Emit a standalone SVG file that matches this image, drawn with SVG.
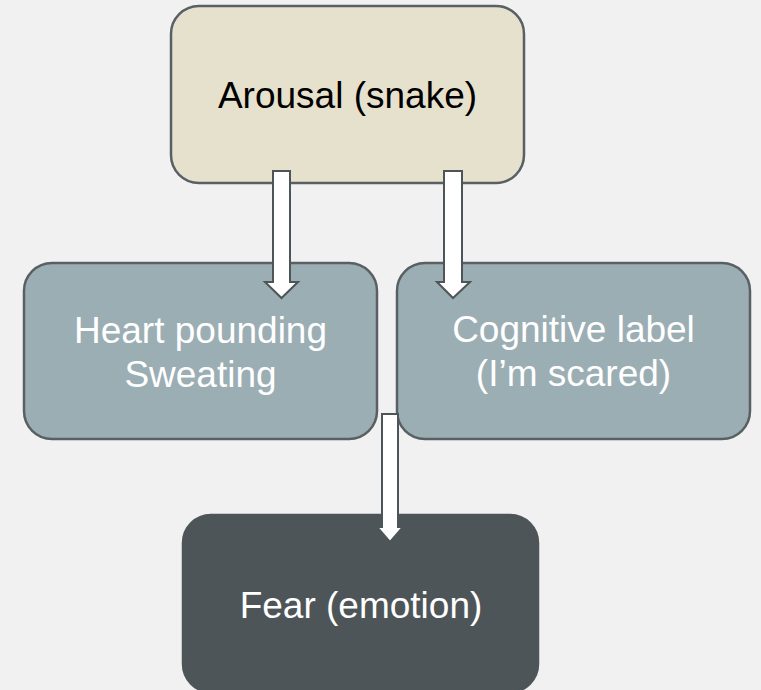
<svg xmlns="http://www.w3.org/2000/svg" width="761" height="690" viewBox="0 0 761 690">
  <style>
    .box { stroke: #596064; stroke-width: 2.5; }
    .top { fill: #e6e1cd; }
    .mid { fill: #9baeb4; }
    .bot { fill: #4d5558; stroke: #4d5558; }
    .lbl { font-family: "Liberation Sans", Arial, sans-serif; font-size: 37px; text-anchor: middle; }
    .dark { fill: #000000; }
    .light { fill: #ffffff; }
    .arrow { fill: #ffffff; stroke: #4d5558; stroke-width: 2; stroke-linejoin: miter; }
  </style>
  <rect x="0" y="0" width="761" height="690" fill="#f1f1f1"/>
  <g id="node-arousal">
    <rect class="box top" x="171" y="6" width="353" height="177" rx="28" ry="28"/>
    <text class="lbl dark" x="347.5" y="108">Arousal (snake)</text>
  </g>
  <g id="node-heart">
    <rect class="box mid" x="24" y="263" width="353" height="176" rx="28" ry="28"/>
    <text class="lbl light" x="200.5" y="343">Heart pounding</text>
    <text class="lbl light" x="200.5" y="387">Sweating</text>
  </g>
  <g id="node-cognitive">
    <rect class="box mid" x="397" y="263" width="353" height="176" rx="28" ry="28"/>
    <text class="lbl light" x="573.5" y="342">Cognitive label</text>
    <text class="lbl light" x="573.5" y="386">(I’m scared)</text>
  </g>
  <g id="node-fear">
    <rect class="box bot" x="183" y="515" width="355" height="177" rx="28" ry="28"/>
    <text class="lbl light" x="361" y="618">Fear (emotion)</text>
  </g>
  <g id="connectors">
    <polygon class="arrow" points="273,171 290,171 290,282 298,282 281.5,298 265,282 273,282"/>
    <polygon class="arrow" points="444,171 462,171 462,282 470,282 453,298 437,282 444,282"/>
    <polygon class="arrow" points="382,414 398,414 398,527 403,527 390,542 377,527 382,527"/>
  </g>
</svg>
